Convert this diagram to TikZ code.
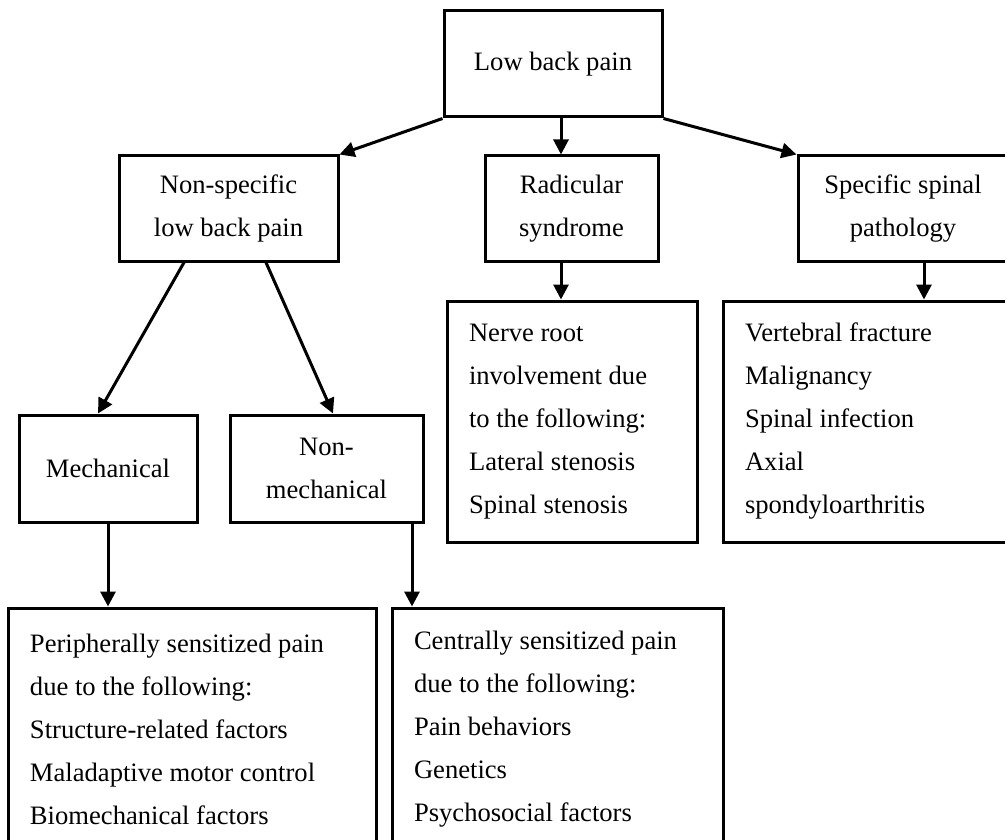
\documentclass[tikz,border=0pt]{standalone}
\usepackage{fontspec}
\setmainfont{Liberation Serif}
\usetikzlibrary{arrows.meta}
\begin{document}
\begin{tikzpicture}[x=1pt,y=-1pt,
  box/.style={draw, line width=3pt, rectangle, inner sep=0pt,
    font=\fontsize{26.6}{43}\selectfont, align=center},
  listbox/.style={box, align=flush left, inner xsep=22pt},
  link/.style={line width=3pt, -{Triangle[length=15pt,width=15pt]}}
]
\useasboundingbox (0,0) rectangle (1005,840);
\clip (0,0) rectangle (1005,840);

% top level
\node[box, minimum width=218pt, minimum height=106pt] (top) at (553,64) {Low back pain};

% second level
\node[box, minimum width=219pt, minimum height=105pt] (ns) at (228.5,208.5) {Non-specific\\low back pain};
\node[box, minimum width=173pt, minimum height=105pt] (rad) at (571.5,208.5) {Radicular\\syndrome};
\node[box, minimum width=210pt, minimum height=105pt] (spec) at (903,208.5) {Specific spinal\\pathology};

% details of radicular syndrome and specific pathology
\node[listbox, text width=206pt, minimum width=250pt, minimum height=241pt] (nerve) at (572,421.5)
  {Nerve root\\involvement due\\to the following:\\Lateral stenosis\\Spinal stenosis};
\node[listbox, text width=241pt, minimum width=285pt, minimum height=241pt] (vert) at (865.5,421.5)
  {Vertebral fracture\\Malignancy\\Spinal infection\\Axial\\spondyloarthritis};

% third level
\node[box, minimum width=178pt, minimum height=107pt] (mech) at (108,468.5) {Mechanical};
\node[box, minimum width=193pt, minimum height=107pt] (nonmech) at (326.5,468.5) {Non-\\mechanical};

% bottom level
\node[listbox, text width=324pt, minimum width=368pt, minimum height=242pt] (periph) at (192,729)
  {Peripherally sensitized pain\\due to the following:\\Structure-related factors\\Maladaptive motor control\\Biomechanical factors};
\node[listbox, text width=287pt, minimum width=331pt, minimum height=242pt] (central) at (557.5,729)
  {Centrally sensitized pain\\due to the following:\\Pain behaviors\\Genetics\\Psychosocial factors};

% connector columns
\coordinate (cmid) at (561,0);
\coordinate (cspec) at (924,0);
\coordinate (nsa) at (184,0);
\coordinate (nsb) at (266,0);
\coordinate (mecha) at (98,0);
\coordinate (nonmecha) at (333,0);
\coordinate (cnon) at (412,0);

% connectors
\draw[link] (top.south west) -- (ns.north east);
\draw[link] (cmid |- top.south) -- (cmid |- rad.north);
\draw[link] (top.south east) -- (spec.north west);
\draw[link] (cmid |- rad.south) -- (cmid |- nerve.north);
\draw[link] (cspec |- spec.south) -- (cspec |- vert.north);
\draw[link] (nsa |- ns.south) -- (mecha |- mech.north);
\draw[link] (nsb |- ns.south) -- (nonmecha |- nonmech.north);
\draw[link] (mech.south) -- (mech.south |- periph.north);
\draw[link] (cnon |- nonmech.south) -- (cnon |- central.north);
\end{tikzpicture}
\end{document}
